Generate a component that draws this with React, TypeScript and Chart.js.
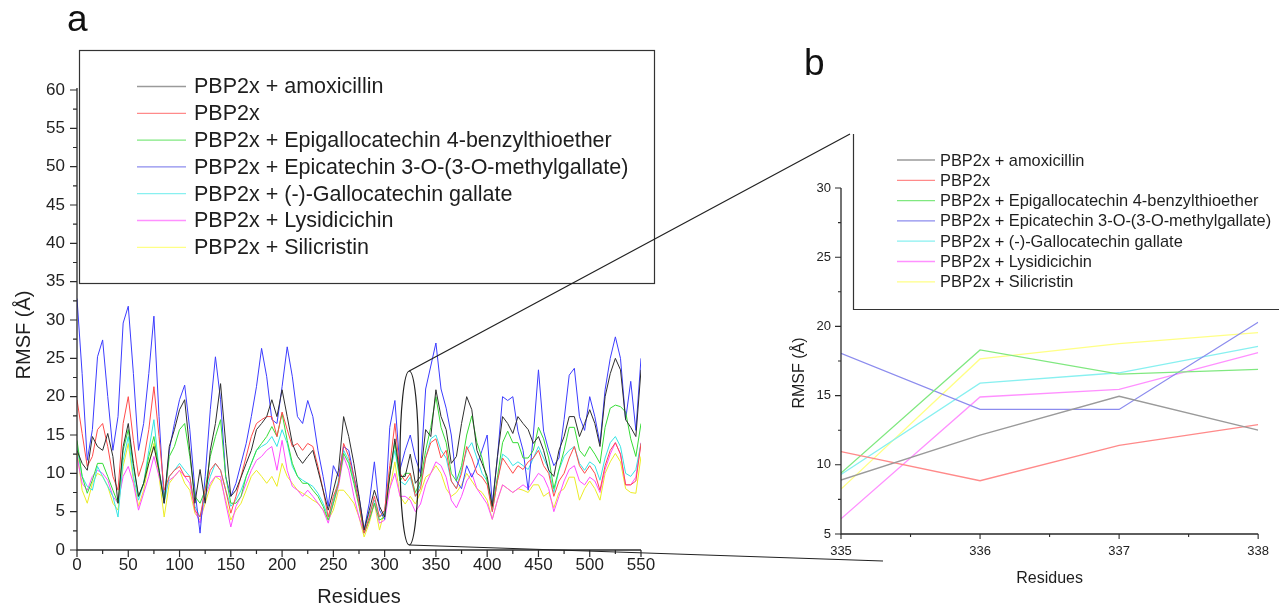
import React, { useEffect, useRef } from "react";
import { Chart, registerables } from "chart.js";

Chart.register(...registerables);

const FONT = 'Arial, "Liberation Sans", Helvetica, sans-serif';
const TEXT = "#1e1e1e";

// ---------- Panel a data (residue, sampled every 5) ----------
const residues = [
  0, 5, 10, 15, 20, 25, 30, 35, 40, 45, 50, 55, 60, 65, 70, 75, 80, 85, 90, 95,
  100, 105, 110, 115, 120, 125, 130, 135, 140, 145, 150, 155, 160, 165, 170, 175, 180, 185, 190, 195,
  200, 205, 210, 215, 220, 225, 230, 235, 240, 245, 250, 255, 260, 265, 270, 275, 280, 285, 290, 295,
  300, 305, 310, 315, 320, 325, 330, 335, 340, 345, 350, 355, 360, 365, 370, 375, 380, 385, 390, 395,
  400, 405, 410, 415, 420, 425, 430, 435, 440, 445, 450, 455, 460, 465, 470, 475, 480, 485, 490, 495,
  500, 505, 510, 515, 520, 525, 530, 535, 540, 545, 550,
];

const amoxicillin = [
  13, 11.3, 10.4, 14.8, 13.5, 13, 15.2, 12.2, 6.1, 13.5,
  16.5, 11.3, 7, 8.7, 11.3, 13.5, 10.4, 6.1, 13.5, 15.7,
  18.3, 19.6, 13, 6.1, 10.5, 6.1, 13, 16.5, 21.7, 13.9,
  7, 7.8, 9.5, 11.3, 13, 15.7, 16.5, 17.4, 19.6, 17.4,
  20.9, 17.4, 13.9, 12.2, 11.3, 12.2, 13, 10.4, 7.8, 5.2,
  7.8, 10.4, 17.4, 14.8, 11.3, 7, 2.6, 5.2, 7.8, 5.7,
  4.3, 9.6, 14.5, 9.6, 9.6, 12.5, 8.7, 9.6, 15.7, 14.8,
  20.9, 17.4, 15.7, 11.3, 12.2, 16.5, 20, 18.3, 13, 11.3,
  9.6, 5.7, 12.2, 17.4, 16.5, 15.2, 17.4, 16.5, 15.7, 13.9,
  14.8, 13, 10.4, 9.6, 13, 14.8, 17.4, 17.4, 14.8, 16.5,
  18.3, 16.5, 13.5, 20, 23, 25, 23.5, 17, 16, 14.8, 23.5,
];

const pbp2x = [
  19.6, 15.2, 10.9, 12.2, 15.7, 16.5, 13.5, 9.6, 7.8, 16.5,
  20, 14.3, 9.6, 11.7, 15.7, 21.3, 14.8, 7.8, 9.6, 10.4,
  10.9, 9.6, 9.6, 5.2, 4.3, 7.8, 10.4, 11.3, 10.4, 7.8,
  4.8, 7, 9.6, 12.2, 14.8, 16.5, 17, 17.4, 17.4, 14.8,
  18, 15.7, 13.5, 13.9, 13, 13.9, 13.5, 10.9, 7.8, 4.3,
  7, 8.7, 13.9, 12.2, 9.6, 6.1, 2.2, 4.3, 7, 4.3,
  5.2, 11, 16.5, 10, 9, 10, 7, 8, 12, 14,
  14.5, 12, 13, 9, 8, 10, 13.5, 12, 10, 9.5,
  8.5, 5, 9, 12, 11, 10, 11, 10.5, 11.5, 12,
  13, 11, 10, 7, 9, 10, 12, 13.5, 11, 10,
  11, 10, 7.8, 11, 13, 14, 12.5, 8.5, 8.5, 9, 13.9,
];

const epigallocatechin = [
  14.3, 9.6, 7.4, 9.1, 11.3, 11.3, 9.6, 7.8, 6.1, 13,
  15.7, 10.9, 7, 8.7, 12.2, 14.8, 10.4, 6.5, 12.2, 13.5,
  15.7, 16.5, 12.2, 7, 6.1, 7.8, 12.2, 14.8, 17, 9.6,
  6.1, 6.1, 7, 9.6, 11.3, 13, 13.9, 14.8, 16.1, 14.8,
  17.8, 14.3, 11.3, 9.6, 8.7, 8.7, 7.8, 7, 5.7, 3.9,
  6.1, 8.7, 12.6, 11.3, 8.7, 5.7, 2.2, 3.9, 6.1, 3.9,
  4.3, 10, 14, 9, 10, 10, 7.5, 9, 13, 16,
  20, 16, 14, 10, 9, 11, 15, 17.5, 14, 12,
  9, 5.5, 9.5, 14, 15.5, 14, 14, 12, 12, 13,
  16, 14.5, 12, 8, 10.5, 13, 16, 16, 13, 12.2,
  13.5, 12.5, 11.3, 16, 18.5, 18.9, 18.7, 18, 14.5, 12.2, 16.5,
];

const epicatechin = [
  32.8, 23, 11.7, 15.7, 25.2, 27.4, 20, 13, 17.4, 29.6,
  31.8, 23, 13, 16.5, 23, 30.5, 17.4, 6.1, 13, 16.5,
  19.6, 21.5, 15.7, 7.8, 2.2, 9.6, 18.3, 25.2, 19.6, 9.6,
  7, 8.7, 11.3, 13.9, 17.4, 21.3, 26.3, 22.6, 17, 16.5,
  21.3, 26.5, 22.6, 17.4, 16.5, 19.5, 17.4, 13, 9.6, 5.7,
  11, 9.6, 13.5, 13, 9.6, 7, 2.6, 6.1, 11.5, 5.2,
  4, 16, 19.5, 10.5, 13, 15, 12, 10, 21, 24,
  27, 21, 18.5, 15, 9, 8, 11, 9.5, 11, 13,
  15, 6, 12, 20, 19.5, 20, 15.5, 13, 7.8, 15,
  23.5, 15.5, 13, 11, 12, 17, 22.8, 23.7, 17.4, 15.6,
  20, 17.4, 13.9, 20.9, 25, 27.8, 25, 17, 22, 15.6, 25,
];

const gallocatechin = [
  13.5, 9.6, 8.3, 7.8, 10.9, 9.6, 8.3, 7, 4.3, 11.7,
  14.8, 9.6, 6.5, 8.7, 13, 17, 10.4, 6.1, 9.6, 10.4,
  11.3, 10.4, 9.6, 5.7, 4.3, 7, 9.6, 11.3, 10.4, 7.8,
  5.7, 6.5, 7.8, 9.6, 11.3, 13, 13.5, 13.9, 14.8, 13.5,
  15.7, 13.9, 10.9, 9.6, 9.1, 8.7, 8.3, 7.4, 6.1, 4.3,
  6.5, 9.1, 13, 11.7, 9.1, 6.1, 2.6, 4.8, 6.5, 4.3,
  4.8, 10, 13, 9, 8.5, 9.5, 7, 8.5, 12, 14.5,
  15, 13, 12, 9, 8, 10.5, 13, 14, 12, 10,
  9, 5, 9, 12.5, 12, 11, 11.5, 11, 10.5, 12,
  13.5, 12, 10.5, 7.5, 10.4, 12.2, 13, 13.5, 11.3, 10.4,
  11.5, 11, 9.1, 12, 14, 14.8, 13.5, 10, 9.6, 10.5, 13.9,
];

const lysidicichin = [
  12.2, 8.7, 7.8, 9.6, 10.4, 10, 9.1, 7, 6.1, 9.6,
  10.9, 8.7, 5.2, 7.4, 9.6, 12.2, 9.6, 7, 9.1, 9.6,
  10.4, 9.6, 8.7, 5.2, 3.5, 7, 8.7, 9.6, 9.6, 6.1,
  3, 5.7, 7, 8.7, 10.4, 11.7, 12.2, 13, 13.5, 10.4,
  14.3, 10.4, 8.3, 7.8, 7, 7.8, 7, 6.1, 5.2, 3.5,
  6.1, 8.3, 12.2, 10.4, 7, 4.3, 2.2, 3.9, 6.1, 3.5,
  3.9, 8, 10, 7, 7, 6.5, 5, 6, 8.5, 10,
  11.5, 11, 9.5, 6.5, 5.5, 7, 9, 10, 8, 7,
  6, 4, 6.5, 8.5, 8, 7.5, 8, 8.5, 8, 9,
  10, 9.5, 8, 5, 7, 9, 10.5, 11, 9, 8.5,
  9.5, 9, 7.5, 10.5, 12.5, 14, 12.5, 8.5, 8.5, 9.5, 14,
];

const silicristin = [
  13, 7.8, 6.1, 8.7, 10, 9.6, 8.3, 6.1, 5.2, 10.9,
  13.9, 9.1, 5.7, 7.8, 11.3, 13.9, 9.6, 4.3, 8.7, 9.6,
  10.4, 8.7, 7.8, 4.8, 3.9, 6.1, 8.3, 9.6, 9.1, 6.5,
  3.9, 5.2, 6.1, 7.8, 9.6, 10.4, 9.6, 8.7, 9.6, 8.3,
  11.3, 9.6, 8.7, 7.8, 7.4, 7, 6.5, 6.1, 5.2, 3.9,
  5.2, 7.8, 7.8, 7, 6.1, 4.3, 1.7, 3.5, 6.1, 2.6,
  5.2, 8, 11.5, 7, 6, 7, 6, 7.5, 9.5, 10,
  11, 10, 8, 7, 7.5, 8.5, 10, 9, 8, 7.5,
  6.5, 4, 6.5, 8.5, 8, 7.5, 8, 7.8, 7.5, 8.5,
  8.5, 7, 7.5, 5.5, 7.5, 8, 9.5, 9.5, 6.5, 8,
  9, 8, 6.5, 10, 11.5, 12.6, 11.5, 8, 7.5, 7.4, 12.2,
];

// ---------- Panel b data (zoom on residues 335-338) ----------
const zoomResidues = [335, 336, 337, 338];
const zoomAmoxicillin = [8.9, 12.15, 14.95, 12.5];
const zoomPbp2x = [10.95, 8.85, 11.4, 12.9];
const zoomEpigallocatechin = [9.4, 18.3, 16.55, 16.9];
const zoomEpicatechin = [18.05, 14.0, 14.0, 20.3];
const zoomGallocatechin = [9.3, 15.9, 16.65, 18.55];
const zoomLysidicichin = [6.1, 14.9, 15.45, 18.1];
const zoomSilicristin = [8.25, 17.65, 18.75, 19.55];

// ---------- labels & ticks ----------
const seriesNames = [
  "PBP2x + amoxicillin",
  "PBP2x",
  "PBP2x + Epigallocatechin 4-benzylthioether",
  "PBP2x + Epicatechin 3-O-(3-O-methylgallate)",
  "PBP2x + (-)-Gallocatechin gallate",
  "PBP2x + Lysidicichin",
  "PBP2x + Silicristin",
];
const xTicksA = [0, 50, 100, 150, 200, 250, 300, 350, 400, 450, 500, 550];
const yTicksA = [0, 5, 10, 15, 20, 25, 30, 35, 40, 45, 50, 55, 60];
const xTicksB = [335, 336, 337, 338];
const yTicksB = [5, 10, 15, 20, 25, 30];

const colorsA = ["#2e2e2e", "#ff4a4a", "#35dc35", "#3c3cff", "#35e4e4", "#ff4cff", "#ecec25"];
const colorsLight = ["#9a9a9a", "#ff8a8a", "#80e880", "#8c8cee", "#88f0f0", "#ff90ff", "#ffff86"];

const seriesA = [amoxicillin, pbp2x, epigallocatechin, epicatechin, gallocatechin, lysidicichin, silicristin];
const seriesB = [
  zoomAmoxicillin, zoomPbp2x, zoomEpigallocatechin, zoomEpicatechin,
  zoomGallocatechin, zoomLysidicichin, zoomSilicristin,
];

function makeDatasets(xs: number[], list: number[][], colors: string[], width: number) {
  return list.map((vals, i) => ({
    label: seriesNames[i],
    data: xs.map((x, j) => ({ x, y: vals[j] })),
    borderColor: colors[i],
    backgroundColor: colors[i],
    borderWidth: width,
    pointRadius: 0,
    tension: 0,
    fill: false,
  }));
}

function drawTicks(ctx: CanvasRenderingContext2D, scale: any, values: number[], axis: "x" | "y", area: any, majorLen: number, minorLen: number) {
  ctx.beginPath();
  const all: [number, number][] = [];
  values.forEach((v, i) => {
    all.push([v, majorLen]);
    if (i < values.length - 1) all.push([(v + values[i + 1]) / 2, minorLen]);
  });
  for (const [v, len] of all) {
    const p = scale.getPixelForValue(v);
    if (axis === "x") {
      ctx.moveTo(p, area.bottom);
      ctx.lineTo(p, area.bottom + len);
    } else {
      ctx.moveTo(area.left, p);
      ctx.lineTo(area.left - len, p);
    }
  }
  ctx.stroke();
}

function drawLegendEntries(ctx: CanvasRenderingContext2D, x0: number, x1: number, tx: number, y0: number, dy: number, size: number) {
  ctx.font = `${size}px ${FONT}`;
  ctx.textBaseline = "middle";
  ctx.textAlign = "left";
  seriesNames.forEach((name, i) => {
    const y = y0 + i * dy;
    ctx.strokeStyle = colorsLight[i];
    ctx.lineWidth = 1.3;
    ctx.beginPath();
    ctx.moveTo(x0, y);
    ctx.lineTo(x1, y);
    ctx.stroke();
    ctx.fillStyle = TEXT;
    ctx.fillText(name, tx, y + 1);
  });
}

const panelAPlugin = {
  id: "panelA",
  afterDraw(chart: any) {
    const { ctx, chartArea: area } = chart;
    const xs = chart.scales.x;
    const ys = chart.scales.y;
    ctx.save();
    ctx.strokeStyle = "#2a2a2a";
    ctx.lineWidth = 1.3;
    ctx.beginPath();
    ctx.moveTo(area.left, area.top - 2);
    ctx.lineTo(area.left, area.bottom);
    ctx.lineTo(area.right, area.bottom);
    ctx.stroke();
    ctx.lineWidth = 1.2;
    drawTicks(ctx, xs, xTicksA, "x", area, 7, 4);
    drawTicks(ctx, ys, yTicksA, "y", area, 7, 4);

    // axis titles
    ctx.fillStyle = TEXT;
    ctx.font = `20px ${FONT}`;
    ctx.textAlign = "center";
    ctx.textBaseline = "alphabetic";
    ctx.fillText("Residues", (area.left + area.right) / 2, 603);
    ctx.save();
    ctx.translate(24, 335);
    ctx.rotate(-Math.PI / 2);
    ctx.textBaseline = "middle";
    ctx.fillText("RMSF (\u00C5)", 0, 0);
    ctx.restore();

    // legend box
    ctx.strokeStyle = "#333";
    ctx.lineWidth = 1.2;
    ctx.strokeRect(79.5, 50.5, 575, 233);
    drawLegendEntries(ctx, 137, 186, 194, 86.5, 26.8, 21.5);

    // zoom ellipse and connectors
    const cx = xs.getPixelForValue(324);
    const cy = ys.getPixelForValue(12);
    const rx = xs.getPixelForValue(333) - cx;
    const ry = cy - ys.getPixelForValue(23.35);
    ctx.strokeStyle = "#222";
    ctx.lineWidth = 1.2;
    ctx.beginPath();
    ctx.ellipse(cx, cy, rx, ry, 0, 0, Math.PI * 2);
    ctx.stroke();
    ctx.beginPath();
    ctx.moveTo(cx, cy - ry);
    ctx.lineTo(850, 134);
    ctx.moveTo(cx, cy + ry);
    ctx.lineTo(883, 561);
    ctx.stroke();

    // panel letter
    ctx.fillStyle = "#111";
    ctx.font = `37px ${FONT}`;
    ctx.textAlign = "left";
    ctx.textBaseline = "alphabetic";
    ctx.fillText("a", 67, 31);
    ctx.restore();
  },
};

const panelBPlugin = {
  id: "panelB",
  afterDraw(chart: any) {
    const { ctx, chartArea: area } = chart;
    const xs = chart.scales.x;
    const ys = chart.scales.y;
    ctx.save();
    ctx.strokeStyle = "#2a2a2a";
    ctx.lineWidth = 1.3;
    ctx.beginPath();
    ctx.moveTo(area.left, area.top);
    ctx.lineTo(area.left, area.bottom);
    ctx.lineTo(area.right, area.bottom);
    ctx.stroke();
    ctx.lineWidth = 1.1;
    drawTicks(ctx, xs, xTicksB, "x", area, 5, 3);
    drawTicks(ctx, ys, yTicksB, "y", area, 6, 3);

    ctx.fillStyle = TEXT;
    ctx.font = `16px ${FONT}`;
    ctx.textAlign = "center";
    ctx.textBaseline = "alphabetic";
    ctx.fillText("Residues", (area.left + area.right) / 2, 583);
    ctx.save();
    ctx.translate(800, 373);
    ctx.rotate(-Math.PI / 2);
    ctx.textBaseline = "middle";
    ctx.fillText("RMSF (\u00C5)", 0, 0);
    ctx.restore();

    // legend frame (left and bottom edges)
    ctx.strokeStyle = "#333";
    ctx.lineWidth = 1.2;
    ctx.beginPath();
    ctx.moveTo(853.5, 134);
    ctx.lineTo(853.5, 309.5);
    ctx.lineTo(1279, 309.5);
    ctx.stroke();
    drawLegendEntries(ctx, 897, 935, 940, 160, 20.3, 16.4);

    ctx.fillStyle = "#111";
    ctx.font = `37px ${FONT}`;
    ctx.textAlign = "left";
    ctx.textBaseline = "alphabetic";
    ctx.fillText("b", 804, 75);
    ctx.restore();
  },
};

function tickScale(min: number, max: number, ticks: number[], fit: (s: any) => void, size: number, padding: number, horizontal: boolean) {
  return {
    type: "linear" as const,
    min,
    max,
    grid: { display: false, drawTicks: false },
    border: { display: false },
    afterBuildTicks: (s: any) => {
      s.ticks = ticks.map((v) => ({ value: v }));
    },
    afterFit: fit,
    ticks: {
      autoSkip: false,
      maxRotation: 0,
      minRotation: 0,
      padding,
      color: "#222",
      font: { family: FONT, size },
      callback: (v: any) => String(v),
    },
  };
}

export default function App() {
  const refA = useRef<HTMLCanvasElement>(null);
  const refB = useRef<HTMLCanvasElement>(null);

  useEffect(() => {
    const chartA = new Chart(refA.current as HTMLCanvasElement, {
      type: "line",
      data: { datasets: makeDatasets(residues, seriesA, colorsA, 1) as any },
      options: {
        animation: false,
        responsive: false,
        devicePixelRatio: 1,
        layout: { padding: { left: 0, top: 90, right: 638, bottom: 0 } },
        plugins: { legend: { display: false }, tooltip: { enabled: false } },
        scales: {
          x: tickScale(0, 550, xTicksA, (s: any) => { s.height = 64; }, 17, 5, true) as any,
          y: tickScale(0, 60, yTicksA, (s: any) => { s.width = 77; }, 17, 12, false) as any,
        },
      },
      plugins: [panelAPlugin],
    });

    const chartB = new Chart(refB.current as HTMLCanvasElement, {
      type: "line",
      data: { datasets: makeDatasets(zoomResidues, seriesB, colorsLight, 1.3) as any },
      options: {
        animation: false,
        responsive: false,
        devicePixelRatio: 1,
        layout: { padding: { left: 780, top: 188, right: 12, bottom: 0 } },
        plugins: { legend: { display: false }, tooltip: { enabled: false } },
        scales: {
          x: tickScale(335, 338, xTicksB, (s: any) => { s.height = 80; }, 13, 10, true) as any,
          y: tickScale(5, 30, yTicksB, (s: any) => { s.width = 61; }, 13, 10, false) as any,
        },
      },
      plugins: [panelBPlugin],
    });

    return () => {
      chartA.destroy();
      chartB.destroy();
    };
  }, []);

  const canvasStyle: React.CSSProperties = { position: "absolute", left: 0, top: 0, width: 1279, height: 614 };
  return (
    <div style={{ position: "absolute", left: 0, top: 0, width: 1279, height: 614, background: "#fff", overflow: "hidden" }}>
      <canvas ref={refA} width={1279} height={614} style={canvasStyle} />
      <canvas ref={refB} width={1279} height={614} style={canvasStyle} />
    </div>
  );
}
